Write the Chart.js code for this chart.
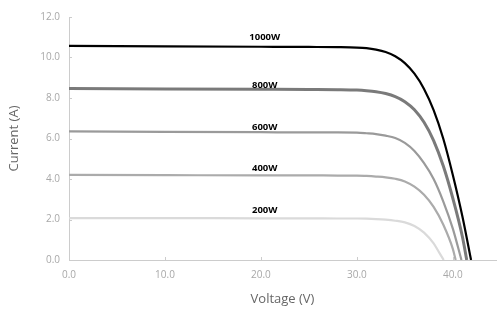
<!DOCTYPE html>
<html>
<head>
<meta charset="utf-8">
<script src="https://cdn.jsdelivr.net/npm/chart.js@4/dist/chart.umd.min.js"></script>
<style>
html,body{margin:0;padding:0;background:#fff;}
#wrap{width:497px;height:311px;position:relative;}
</style>
</head>
<body>
<div id="wrap"><canvas id="c" width="497" height="311"></canvas></div>
<script>
// Series names and label positions (V, A)
const seriesNames = ['1000W', '800W', '600W', '400W', '200W'];
const labelX = [20.4, 20.4, 20.4, 20.4, 20.4];
const labelY = [10.98, 8.61, 6.56, 4.53, 2.47];

// Voltage (V) samples and current (A) readings
const v1000 = [0, 10, 20, 25, 28, 30, 31, 32, 33, 34, 35, 36, 37, 38, 39, 40, 41, 41.9];
const i1000 = [10.57, 10.55, 10.53, 10.52, 10.51, 10.49, 10.46, 10.39, 10.27, 10.06, 9.72, 9.20, 8.45, 7.40, 6.00, 4.20, 2.15, 0];

const v800 = [0, 10, 20, 25, 28, 30, 31, 32, 33, 34, 35, 36, 37, 38, 39, 40, 41, 41.45];
const i800 = [8.47, 8.45, 8.43, 8.42, 8.41, 8.39, 8.36, 8.31, 8.22, 8.07, 7.82, 7.42, 6.80, 5.90, 4.65, 3.05, 1.15, 0];

const v600 = [0, 10, 20, 25, 28, 30, 31, 32, 33, 34, 35, 36, 37, 38, 39, 40, 40.9];
const i600 = [6.35, 6.33, 6.31, 6.30, 6.30, 6.29, 6.26, 6.22, 6.14, 6.02, 5.78, 5.38, 4.78, 4.00, 2.90, 1.55, 0];

const v400 = [0, 10, 20, 25, 28, 30, 31, 32, 33, 34, 35, 36, 37, 38, 39, 40, 40.3];
const i400 = [4.20, 4.19, 4.18, 4.18, 4.17, 4.17, 4.15, 4.12, 4.08, 4.01, 3.88, 3.62, 3.22, 2.62, 1.75, 0.55, 0];

const v200 = [0, 10, 20, 25, 28, 30, 31, 32, 33, 34, 35, 36, 37, 38, 38.6, 39.05];
const i200 = [2.07, 2.07, 2.06, 2.06, 2.05, 2.05, 2.04, 2.02, 1.99, 1.94, 1.86, 1.68, 1.35, 0.82, 0.35, 0];

const xTicks = [0, 10, 20, 30, 40];
const yTicks = [0, 2, 4, 6, 8, 10, 12];

const seriesV = [v1000, v800, v600, v400, v200];
const seriesI = [i1000, i800, i600, i400, i200];
const colors = ['#000000', '#7a7a7a', '#9a9a9a', '#ababab', '#dadada'];
const widths = [2.2, 3, 2.2, 2.2, 2.2];

const datasets = seriesNames.map((n, k) => ({
  label: n,
  data: seriesV[k].map((v, j) => ({x: v, y: seriesI[k][j]})),
  borderColor: colors[k],
  borderWidth: widths[k],
  pointRadius: 0,
  fill: false,
  cubicInterpolationMode: 'monotone',
  order: k
}));

const innerTicks = {
  id: 'innerTicks',
  afterDatasetsDraw(chart) {
    const ctx = chart.ctx;
    const xs = chart.scales.x, ys = chart.scales.y;
    const area = chart.chartArea;
    ctx.save();
    ctx.strokeStyle = '#cccccc';
    ctx.lineWidth = 1;
    ctx.beginPath();
    xTicks.forEach(t => {
      if (t === 0) return;
      const px = Math.round(xs.getPixelForValue(t)) + 0.5;
      ctx.moveTo(px, area.bottom);
      ctx.lineTo(px, area.bottom - 3);
    });
    yTicks.forEach(t => {
      if (t === 0) return;
      const py = Math.round(ys.getPixelForValue(t)) + 0.5;
      ctx.moveTo(area.left, py);
      ctx.lineTo(area.left + 3, py);
    });
    ctx.stroke();
    ctx.fillStyle = '#000';
    ctx.font = 'bold 9.5px "Open Sans"';
    ctx.textAlign = 'center';
    ctx.textBaseline = 'middle';
    seriesNames.forEach((n, k) => {
      ctx.fillText(n, xs.getPixelForValue(labelX[k]), ys.getPixelForValue(labelY[k]));
    });
    ctx.restore();
  }
};

new Chart(document.getElementById('c'), {
  type: 'line',
  data: {datasets},
  plugins: [innerTicks],
  options: {
    responsive: false,
    animation: false,
    events: [],
    layout: {padding: {top: 17, right: 1, left: 0, bottom: 0}},
    plugins: {legend: {display: false}, tooltip: {enabled: false}},
    scales: {
      x: {
        type: 'linear',
        min: 0, max: 44.5,
        afterBuildTicks(s) { s.ticks = xTicks.map(v => ({value: v})); },
        afterFit(s) { s.height = 51; },
        grid: {display: true, drawOnChartArea: false, drawTicks: false},
        border: {display: true, color: '#cccccc', width: 1},
        ticks: {padding: 9, color: '#a8a8a8', font: {family: 'Open Sans', size: 10}, callback: v => Number(v).toFixed(1)},
        title: {display: true, text: 'Voltage (V)', color: '#666666', font: {family: 'Open Sans', size: 13}, padding: {top: 5, bottom: 4}}
      },
      y: {
        type: 'linear',
        min: 0, max: 12,
        afterBuildTicks(s) { s.ticks = yTicks.map(v => ({value: v})); },
        afterFit(s) { s.width = 69; },
        grid: {display: true, drawOnChartArea: false, drawTicks: false},
        border: {display: true, color: '#cccccc', width: 1},
        ticks: {padding: 9, color: '#a8a8a8', font: {family: 'Open Sans', size: 10}, callback: v => Number(v).toFixed(1)},
        title: {display: true, text: 'Current (A)', color: '#666666', font: {family: 'Open Sans', size: 13}, padding: {top: 6, bottom: 0}}
      }
    }
  }
});
</script>
</body>
</html>
